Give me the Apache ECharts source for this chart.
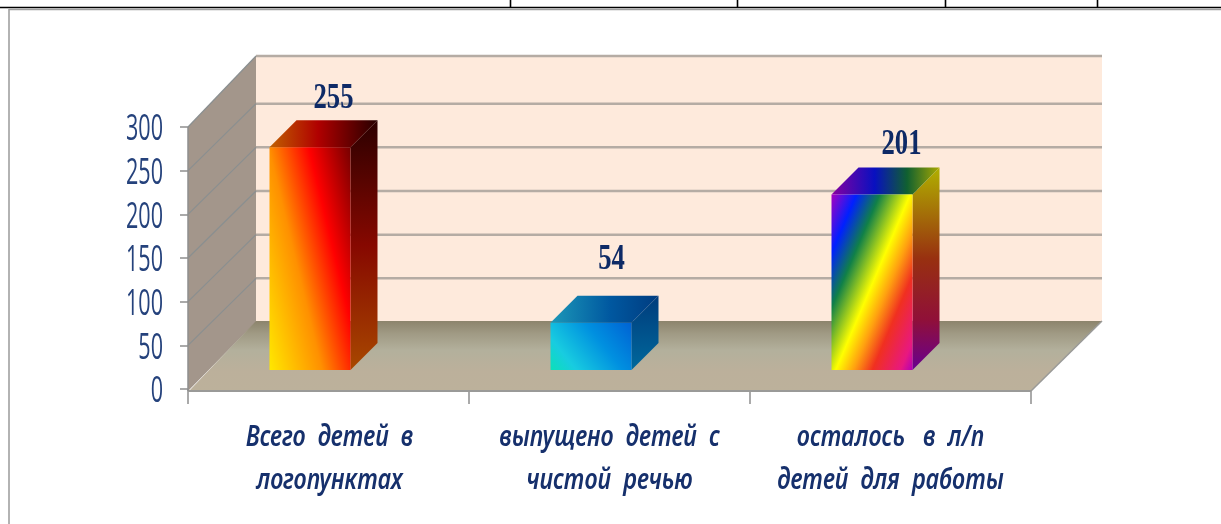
<!DOCTYPE html>
<html><head><meta charset="utf-8">
<style>html,body{margin:0;padding:0;background:#fff}#c{width:1221px;height:524px;filter:blur(0.6px)}</style>
<script src="https://cdn.jsdelivr.net/npm/echarts@6/dist/echarts.min.js"></script>
</head><body><div id="c"></div>
<script>
const categories = ['Всего  детей  в\nлогопунктах', 'выпущено  детей  с\nчистой  речью', 'осталось   в  л/п\nдетей  для  работы'];
const values = [255, 54, 201];
const yTicks = [0, 50, 100, 150, 200, 250, 300];
const labelNudge = [10, 7, 16];
const labelLift = [22, 36, 23];

const DEPTH_X = 68, DEPTH_Y = 67, FLOOR_DROP = 2;
const BAR_W = 81, BAR_DEPTH = 27, BAR_SHIFT_X = -18.5, BAR_SHIFT_Y = -19;

function linear(x1, y1, x2, y2, stops) {
  return {type:'linear', global:true, x:x1, y:y1, x2:x2, y2:y2,
    colorStops:stops.map(s=>({offset:s[0], color:s[1]}))};
}
function poly(points, fill, z2) { return {type:'polygon', shape:{points}, style:{fill}, z2:z2||0}; }
function seg(a, b, stroke, w) { return {type:'line', shape:{x1:a[0],y1:a[1],x2:b[0],y2:b[1]}, style:{stroke, lineWidth:w}}; }

function scaledText(text, x, y, font, fill, sx, sy, align) {
  return {type:'text', x, y, scaleX:sx, scaleY:sy,
    style:{text, x:0, y:0, font, fill, align:align||'center', verticalAlign:'middle'}};
}

const palettes = [
  (x,top,bot,bw,d) => ({
    front: linear(x, bot, x+146, bot-35, [[0,'#ffe800'],[.34,'#ff9000'],[.6,'#ff0000'],[.85,'#800000'],[1,'#400000']]),
    side: linear(0, top-d, 0, bot, [[0,'#2c0000'],[.5,'#860800'],[1,'#a84800']]),
    top: linear(x, 0, x+bw+d, 0, [[0,'#c06000'],[.45,'#b00000'],[1,'#260000']])
  }),
  (x,top,bot,bw,d) => ({
    front: linear(x, bot, x+bw-10, top-10, [[0,'#0ce0b8'],[.22,'#18cce0'],[.62,'#0090e0'],[1,'#0064d4']]),
    side: linear(0, top-d, 0, bot, [[0,'#003c7c'],[1,'#00689c']]),
    top: linear(x, 0, x+bw+d, 0, [[0,'#1c98b8'],[.55,'#0058a0'],[1,'#003c80']])
  }),
  (x,top,bot,bw,d) => ({
    front: linear(x, top, x+132, top+56, [[0,'#a800c0'],[.16,'#0020ff'],[.31,'#108048'],[.505,'#ffff00'],[.62,'#ffa010'],[.74,'#f03020'],[.92,'#e81880'],[1,'#b000b8']]),
    side: linear(0, top-d, 0, bot, [[0,'#b0b000'],[.45,'#983010'],[.75,'#901038'],[1,'#680090']]),
    top: linear(x, 0, x+bw+d, 0, [[0,'#8800a0'],[.4,'#0810c0'],[.7,'#106030'],[1,'#a8a800']])
  })
];

function renderScene(params, api) {
  const g = params.coordSys;
  const left = g.x, right = g.x + g.width;
  const y0 = api.coord([0, 0])[1], yTop = api.coord([0, yTicks[yTicks.length-1]])[1];
  const bx = left + DEPTH_X, rx = right + DEPTH_X + 3;
  const children = [];
  children.push(poly([[bx,yTop-DEPTH_Y-4],[rx,yTop-DEPTH_Y-4],[rx,y0-DEPTH_Y],[bx,y0-DEPTH_Y]], '#feeadc'));
  children.push(poly([[left,yTop],[bx,yTop-DEPTH_Y-4],[bx,y0-DEPTH_Y],[left,y0+FLOOR_DROP]], '#a3968b'));
  children.push(poly([[left+1,y0+FLOOR_DROP],[bx,y0-DEPTH_Y-1],[rx,y0-DEPTH_Y-1],[right,y0+FLOOR_DROP]],
    linear(0, y0-DEPTH_Y-1, 0, y0+FLOOR_DROP, [[0,'#8c846c'],[.18,'#a09a84'],[.42,'#b3b09c'],[.72,'#bcb09b'],[1,'#bcb19b']])));
  children.push(seg([left,y0+FLOOR_DROP],[right,y0+FLOOR_DROP],'#9a9a98',2));
  children.push(seg([right,y0+FLOOR_DROP],[rx,y0-DEPTH_Y-1],'#9a9a98',1.5));
  yTicks.forEach(v => {
    const y = api.coord([0, v])[1];
    const dy = v === yTicks[yTicks.length-1] ? DEPTH_Y+4 : DEPTH_Y;
    if (v > 0) {
      children.push(seg([bx,y-dy],[rx,y-dy],'#b5aca4',2.5));
      children.push(seg([left,y],[bx,y-dy],'#8a8f90',1.2));
    }
  });
  children.push(seg([left,yTop],[left,y0+FLOOR_DROP],'#8e8e8e',1.5));
  yTicks.forEach(v => {
    const y = api.coord([0, v])[1];
    children.push(scaledText(String(v), 163, y+3, '36px "Open Sans"', '#25427c', .6, 1, 'right'));
  });
  categories.forEach((c, i) => {
    const x = api.coord([i, 0])[0];
    c.split('\n').forEach((line, k) => {
      children.push(scaledText(line, x + (i===0?1:0), y0 + 49 + k*43, 'italic 600 25px "Noto Sans"', '#16306c', .93, 1.12));
    });
  });
  return {type:'group', children};
}

function renderBar(params, api) {
  const i = api.value(0), v = api.value(1);
  const c = api.coord([i, v]), b = api.coord([i, 0]);
  const x = c[0] + BAR_SHIFT_X - BAR_W/2, xr = x + BAR_W;
  const top = c[1] + BAR_SHIFT_Y, bot = b[1] + BAR_SHIFT_Y;
  const d = BAR_DEPTH;
  const p = palettes[i](x, top, bot, BAR_W, d);
  const cx = (x + xr + d)/2 + labelNudge[i];
  return {type:'group', children:[
    poly([[xr,top],[xr+d,top-d],[xr+d,bot-d],[xr,bot]], p.side),
    poly([[x,top],[x+d,top-d],[xr+d,top-d],[xr,top]], p.top),
    poly([[x,top],[xr,top],[xr,bot],[x,bot]], p.front),
    scaledText(String(values[i]), cx, top-d-labelLift[i], 'bold 36px "Liberation Serif"', '#0e2a66', .74, 1)
  ]};
}

const chart = echarts.init(document.getElementById('c'), null, {renderer:'canvas'});
chart.setOption({
  animation:false,
  backgroundColor:'#fff',
  grid:{left:188, right:190, top:127, bottom:135, containLabel:false},
  xAxis:{type:'category', data:categories, boundaryGap:true,
    axisLine:{show:false}, axisLabel:{show:false},
    axisTick:{show:true, length:15, lineStyle:{color:'#8e8e8e', width:1.5}}},
  yAxis:{type:'value', min:0, max:300, interval:50,
    axisLine:{show:false}, splitLine:{show:false}, axisLabel:{show:false},
    axisTick:{show:true, length:8, lineStyle:{color:'#8e8e8e', width:1.5}}},
  graphic:[
    {type:'line', shape:{x1:0,y1:7.5,x2:1221,y2:7.5}, style:{stroke:'#000',lineWidth:1.6}},
    {type:'line', shape:{x1:9,y1:9.5,x2:1221,y2:9.5}, style:{stroke:'#a0a0a0',lineWidth:1.6}},
    {type:'line', shape:{x1:9,y1:9,x2:9,y2:524}, style:{stroke:'#a0a0a0',lineWidth:1.6}},
    {type:'line', shape:{x1:510.5,y1:0,x2:510.5,y2:8}, style:{stroke:'#000',lineWidth:1.6}},
    {type:'line', shape:{x1:737.5,y1:0,x2:737.5,y2:8}, style:{stroke:'#000',lineWidth:1.6}},
    {type:'line', shape:{x1:945.5,y1:0,x2:945.5,y2:8}, style:{stroke:'#000',lineWidth:1.6}},
    {type:'line', shape:{x1:1097.5,y1:0,x2:1097.5,y2:8}, style:{stroke:'#000',lineWidth:1.6}}
  ],
  series:[
    {type:'custom', coordinateSystem:'cartesian2d', data:[[0,0]], renderItem:renderScene, silent:true, z:2, encode:{x:0,y:1}},
    {type:'custom', coordinateSystem:'cartesian2d', data:values.map((v,i)=>[i,v]), renderItem:renderBar, silent:true, z:3, encode:{x:0,y:1}}
  ]
});
</script></body></html>
